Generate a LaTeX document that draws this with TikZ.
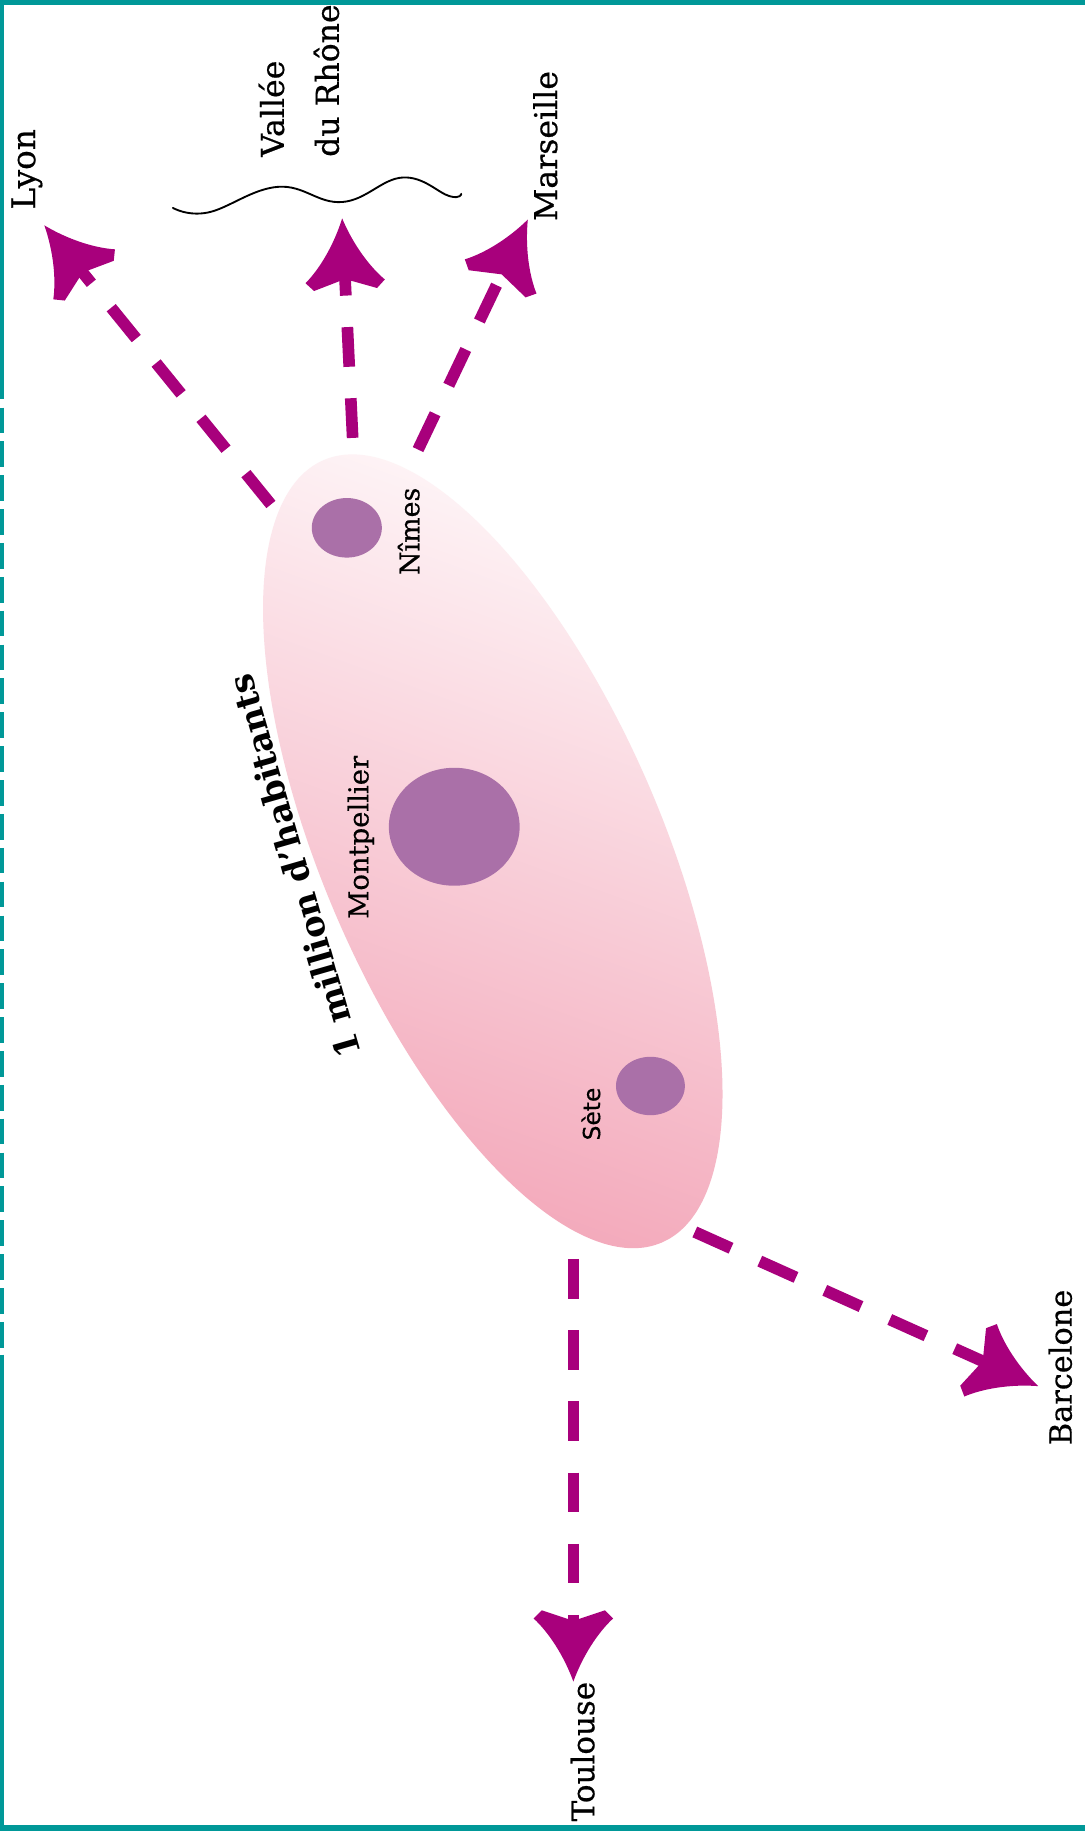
\documentclass[tikz,border=0pt]{standalone}
\usepackage{fontspec}
\setmainfont{DejaVu Serif}
\newfontfamily\lblfont{DejaVu Serif}[FakeBold=0.6]
\newfontfamily\setefont{DejaVu Sans}[FakeBold=0.4]
\usetikzlibrary{arrows.meta,shapes.geometric}
\definecolor{teal1}{RGB}{0,152,152}
\definecolor{mag}{RGB}{168,0,124}
\definecolor{cityc}{RGB}{170,112,168}
\definecolor{pinkdark}{RGB}{243,168,186}
\definecolor{pinklight}{RGB}{254,245,247}
\pgfdeclarearrow{
  name = Barb,
  setup code = {
    \pgfarrowssettipend{0pt}
    \pgfarrowssetbackend{-61pt}
    \pgfarrowssetlineend{-50pt}
    \pgfarrowshullpoint{0pt}{0pt}
    \pgfarrowshullpoint{-61pt}{34pt}
    \pgfarrowshullpoint{-61pt}{-34pt}
  },
  drawing code = {
    \pgfpathmoveto{\pgfpointorigin}
    \pgfpathcurveto{\pgfpoint{-22pt}{8pt}}{\pgfpoint{-42pt}{21pt}}{\pgfpoint{-54pt}{34pt}}
    \pgfpathlineto{\pgfpoint{-61pt}{27pt}}
    \pgfpathlineto{\pgfpoint{-52pt}{0pt}}
    \pgfpathlineto{\pgfpoint{-61pt}{-27pt}}
    \pgfpathlineto{\pgfpoint{-54pt}{-34pt}}
    \pgfpathcurveto{\pgfpoint{-42pt}{-21pt}}{\pgfpoint{-22pt}{-8pt}}{\pgfpointorigin}
    \pgfpathclose
    \pgfusepathqfill
  }
}
\begin{document}
\begin{tikzpicture}[x=1pt,y=-1pt,
  conn/.style={color=mag, line width=10pt, dash pattern=on 34pt off 27pt, -{Barb}},
  lbl/.style={rotate=90, inner sep=0pt},
  citydot/.style={ellipse, fill=cityc, draw=none, inner sep=0pt}]
\useasboundingbox (0,0) rectangle (929,1568);
\fill[white] (0,0) rectangle (929,1568);
% frame
\fill[teal1] (0,0) rectangle (929,4);
\fill[teal1] (0,1563) rectangle (929,1568);
\draw[teal1, line width=3pt] (1.5,0) -- (1.5,320);
\draw[teal1, line width=3pt, dash pattern=on 22pt off 7pt] (1.5,320) -- (1.5,1160);
\draw[teal1, line width=3pt] (1.5,1160) -- (1.5,1568);
% region
\shade[top color=pinklight, bottom color=pinkdark, shading angle=-20]
  plot[domain=0:360, samples=120, smooth] ({422+144.9*cos(\x)-133.1*sin(\x)},{729+335*cos(\x)+57.6*sin(\x)}) -- cycle;
% cities
\node (nimesdot) [citydot, minimum width=60pt, minimum height=51pt] at (297,452) {};
\node (montdot) [citydot, minimum width=112pt, minimum height=101pt] at (389,708) {};
\node (setedot) [citydot, minimum width=59pt, minimum height=50pt] at (557,930) {};
\node (nimes) [lbl, font=\lblfont\fontsize{23}{27}\selectfont] at (350,455) {Nîmes};
\node (mont) [lbl, font=\lblfont\fontsize{23.5}{28}\selectfont] at (309,717) {Montpellier};
\node (sete) [lbl, font=\setefont\fontsize{20}{24}\selectfont] at (506,954) {Sète};
\node (million) [rotate=106, inner sep=0pt, font=\bfseries\fontsize{29}{34}\selectfont] at (252,742) {1 million d'habitants};
% destination labels
\node (lyon) [lbl, font=\lblfont\fontsize{28}{32}\selectfont] at (23,145) {Lyon};
\node (vallee) [lbl, align=left, font=\lblfont\fontsize{27}{47}\selectfont] at (256,69) {Vallée\\du Rhône};
\node (marseille) [lbl, font=\lblfont\fontsize{27}{32}\selectfont] at (467,125) {Marseille};
\node (barcelone) [lbl, font=\lblfont\fontsize{26}{30}\selectfont] at (908,1171) {Barcelone};
\node (toulouse) [lbl, font=\lblfont\fontsize{26.5}{30}\selectfont] at (499,1500) {Toulouse};
% wave
\draw[line width=1.6pt, line cap=round] plot[smooth, tension=0.7] coordinates {(148,178) (178,182) (238,160) (293,173) (345,152) (385,168) (395,166)};
% connectors
\coordinate (sLyon) at (232,432); \coordinate (tLyon) at (38,193);
\coordinate (sRh) at (302,375); \coordinate (tRh) at (293,187);
\coordinate (sMar) at (358,385); \coordinate (tMar) at (452,188);
\coordinate (sBar) at (595,1055); \coordinate (tBar) at (889,1187);
\coordinate (sTou) at (491,1078); \coordinate (tTou) at (491,1440);
\draw[conn] (sLyon) -- (tLyon);
\draw[conn] (sRh) -- (tRh);
\draw[conn] (sMar) -- (tMar);
\draw[conn] (sBar) -- (tBar);
\draw[conn] (sTou) -- (tTou);
\end{tikzpicture}
\end{document}
